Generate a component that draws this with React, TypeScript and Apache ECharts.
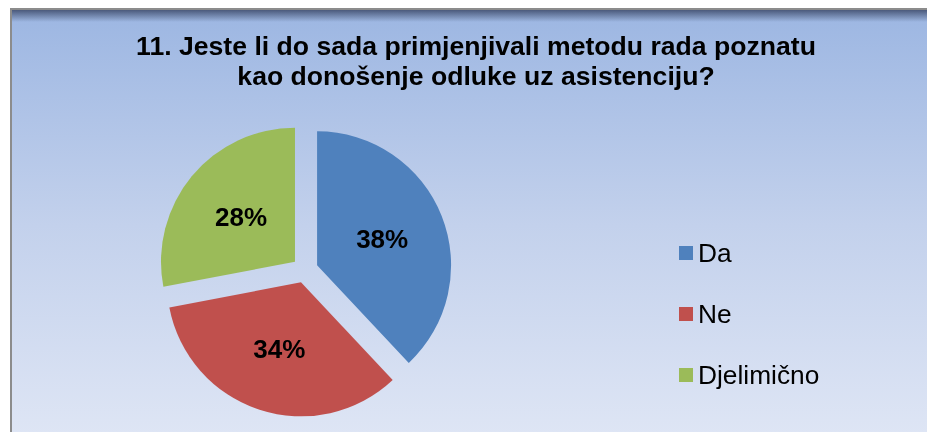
import React, { useEffect, useRef } from "react";
import * as echarts from "echarts";

const titleLines = [
  "11. Jeste li do sada primjenjivali metodu rada poznatu",
  "kao donošenje odluke uz asistenciju?",
];
const categories = ["Da", "Ne", "Djelimično"];
const values = [38, 34, 28];
const colors = ["#4f81bd", "#c0504d", "#9bbb59"];

export default function App() {
  const ref = useRef<HTMLDivElement>(null);
  useEffect(() => {
    if (!ref.current) return;
    const chart = echarts.init(ref.current, undefined, { renderer: "svg" });
    const data = categories.map((name, i) => ({
      name,
      value: values[i],
      selected: true,
      itemStyle: { color: colors[i] },
    }));
    chart.setOption({
      animation: false,
      graphic: [
        {
          type: "rect",
          shape: { x: 11, y: 9, width: 1000, height: 433 },
          style: {
            fill: new echarts.graphic.LinearGradient(0, 0, 0, 1, [
              { offset: 0, color: "#9cb6e2" },
              { offset: 0.5, color: "#c3d1ec" },
              { offset: 1, color: "#dfe6f5" },
            ]),
            stroke: "#8c8c8c",
            lineWidth: 2,
          },
          z: 0,
        },
        {
          type: "rect",
          shape: { x: 12, y: 10, width: 1000, height: 12 },
          style: {
            fill: new echarts.graphic.LinearGradient(0, 0, 0, 1, [
              { offset: 0, color: "rgba(40,50,80,0.7)" },
              { offset: 1, color: "rgba(40,50,80,0)" },
            ]),
          },
          z: 1,
        },
        {
          type: "text",
          x: 476,
          y: 61,
          style: {
            text: titleLines.join("\n"),
            font: "bold 26.6px 'Liberation Sans', Arial, sans-serif",
            fill: "#000",
            align: "center",
            verticalAlign: "middle",
            lineHeight: 30,
          },
          z: 5,
        },
      ],
      legend: {
        orient: "vertical",
        left: 674,
        top: 235,
        itemWidth: 14,
        itemHeight: 14,
        itemGap: 35,
        icon: "rect",
        selectedMode: false,
        data: categories,
        textStyle: {
          fontFamily: "'Liberation Sans', Arial, sans-serif",
          fontSize: 26.3,
          lineHeight: 26,
          color: "#000",
        },
      },
      series: [
        {
          type: "pie",
          center: [305, 270],
          radius: 134,
          startAngle: 90,
          clockwise: true,
          selectedMode: "multiple",
          selectedOffset: 13,
          data,
          label: {
            show: true,
            position: "inner",
            formatter: "{c}%",
            fontFamily: "'Liberation Sans', Arial, sans-serif",
            fontSize: 26,
            fontWeight: "bold",
            color: "#000",
          },
          labelLine: { show: false },
          emphasis: { disabled: true },
          select: { disabled: false },
        },
      ],
    });
    return () => chart.dispose();
  }, []);
  return (
    <div
      ref={ref}
      style={{ position: "fixed", left: 0, top: 0, width: 927, height: 432 }}
    />
  );
}
